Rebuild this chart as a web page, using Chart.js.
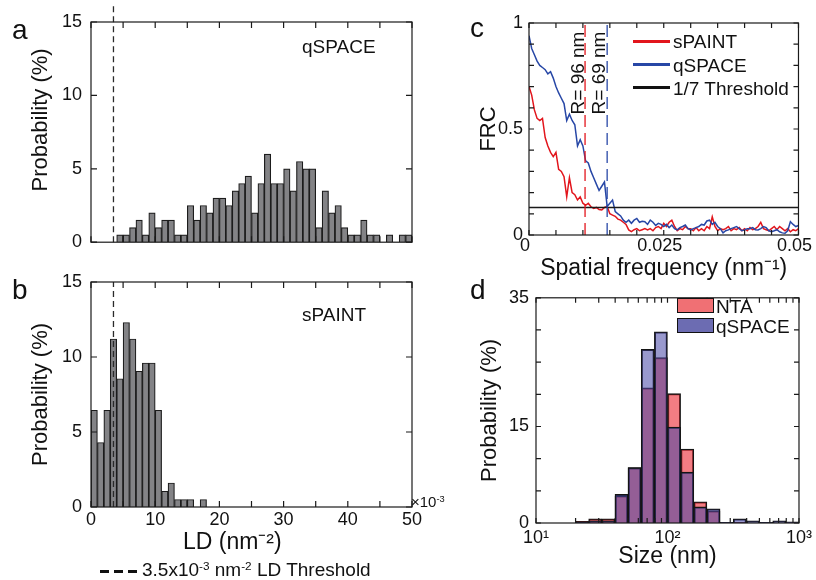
<!DOCTYPE html>
<html>
<head>
<meta charset="utf-8">
<title>LD histograms, FRC and size distributions</title>
<script src="https://cdn.jsdelivr.net/npm/chart.js@4.4.1/dist/chart.umd.min.js"></script>
<style>
  body { margin: 0; background: #fff; }
  #fig { position: relative; width: 816px; height: 580px; overflow: hidden;
         font-family: "Liberation Sans", Arial, sans-serif; color: #111; }
  #fig canvas { position: absolute; }
  .lbl { position: absolute; white-space: nowrap; line-height: 1; }
  .lbl sup { font-size: 0.62em; vertical-align: 0.55em; line-height: 0; }
  .rot { transform: translate(-50%, -50%) rotate(-90deg); }
  .swatch { position: absolute; height: 3px; width: 37px; }
  .patch { position: absolute; box-sizing: border-box; width: 37px; height: 15px; border: 1.5px solid #111; }
</style>
</head>
<body>
<div id="fig">
  <canvas id="ldQspace" width="430" height="262" style="left:0;top:0"></canvas>
  <canvas id="ldSpaint" width="430" height="318" style="left:0;top:262px"></canvas>
  <canvas id="frc" width="376" height="282" style="left:440px;top:0"></canvas>
  <canvas id="size" width="376" height="300" style="left:440px;top:280px"></canvas>

  <!-- panel letters -->
  <div class="lbl" style="left:12px;top:16px;font-size:28px">a</div>
  <div class="lbl" style="left:12px;top:276px;font-size:28px">b</div>
  <div class="lbl" style="left:470px;top:14px;font-size:28px">c</div>
  <div class="lbl" style="left:470px;top:276px;font-size:28px">d</div>

  <!-- a / b annotations -->
  <div class="lbl" style="left:302px;top:37px;font-size:19px">qSPACE</div>
  <div class="lbl" style="left:302px;top:305px;font-size:19px">sPAINT</div>
  <div class="lbl" style="left:411px;top:494px;font-size:15px">×10<sup>-3</sup></div>
  <div style="position:absolute;left:100px;top:570px;width:38px;height:3px;background:repeating-linear-gradient(to right,#111 0 9px,transparent 9px 14px)"></div>
  <div class="lbl" style="left:142px;top:560px;font-size:19px">3.5x10<sup>-3</sup> nm<sup>-2</sup> LD Threshold</div>

  <!-- c annotations and legend -->
  <div class="lbl rot" style="left:577px;top:73px;font-size:19px">R= 96 nm</div>
  <div class="lbl rot" style="left:598px;top:73px;font-size:19px">R= 69 nm</div>
  <div class="swatch" style="left:633px;top:40px;background:#e2151c"></div>
  <div class="swatch" style="left:633px;top:63px;background:#2747a6"></div>
  <div class="swatch" style="left:633px;top:86px;background:#111"></div>
  <div class="lbl" style="left:673px;top:32px;font-size:19px">sPAINT</div>
  <div class="lbl" style="left:673px;top:56px;font-size:19px">qSPACE</div>
  <div class="lbl" style="left:673px;top:79px;font-size:19px">1/7 Threshold</div>

  <!-- d legend -->
  <div class="patch" style="left:677px;top:298px;background:rgb(240,112,116)"></div>
  <div class="patch" style="left:677px;top:318px;background:rgb(108,108,178)"></div>
  <div class="lbl" style="left:716px;top:297px;font-size:19px">NTA</div>
  <div class="lbl" style="left:716px;top:317px;font-size:19px">qSPACE</div>
</div>

<script>
// ---- panel a/b: localisation density histograms (bins of 1e-3 nm^-2) ----
const ldBinCenters = [0.5, 1.5, 2.5, 3.5, 4.5, 5.5, 6.5, 7.5, 8.5, 9.5,
  10.5, 11.5, 12.5, 13.5, 14.5, 15.5, 16.5, 17.5, 18.5, 19.5,
  20.5, 21.5, 22.5, 23.5, 24.5, 25.5, 26.5, 27.5, 28.5, 29.5,
  30.5, 31.5, 32.5, 33.5, 34.5, 35.5, 36.5, 37.5, 38.5, 39.5,
  40.5, 41.5, 42.5, 43.5, 44.5, 45.5, 46.5, 47.5, 48.5, 49.5];
const qspaceLD = [0, 0, 0, 0, 0.5, 0.5, 1.0, 1.5, 0.5, 2.0,
  1.0, 1.5, 1.5, 0.5, 0.5, 2.5, 1.5, 2.5, 2.0, 3.0,
  3.0, 2.5, 3.5, 4.0, 4.5, 2.0, 4.0, 6.0, 4.0, 4.0,
  5.0, 3.5, 5.5, 5.0, 5.0, 1.0, 3.5, 2.0, 2.5, 1.0,
  0.5, 0.5, 1.5, 0.5, 0.5, 0, 0.5, 0, 0.5, 0.5];
const spaintLD = [6.45, 4.3, 6.45, 11.2, 8.55, 12.3, 11.2, 9.05, 9.6, 9.6,
  6.45, 1.05, 1.6, 0.5, 0.5, 0.5, 0, 0.5, 0, 0,
  0, 0, 0, 0, 0, 0, 0, 0, 0, 0,
  0, 0, 0, 0, 0, 0, 0, 0, 0, 0,
  0, 0, 0, 0, 0, 0, 0, 0, 0, 0];
const ldThreshold = 3.5;
const ldXLabels = [0, 10, 20, 30, 40, 50];

// ---- panel c: Fourier ring correlation ----
const frcFreq = [0, 0.0005, 0.001, 0.0015, 0.002, 0.0025, 0.003, 0.0035, 0.004, 0.0045,
  0.005, 0.0055, 0.006, 0.0065, 0.007, 0.0075, 0.008, 0.0085, 0.009, 0.0095,
  0.01, 0.0105, 0.011, 0.0115, 0.012, 0.0125, 0.013, 0.0135, 0.014, 0.0145,
  0.015, 0.0155, 0.016, 0.0165, 0.017, 0.0175, 0.018, 0.0185, 0.019, 0.0195,
  0.02, 0.0205, 0.021, 0.0215, 0.022, 0.0225, 0.023, 0.0235, 0.024, 0.0245,
  0.025, 0.0255, 0.026, 0.0265, 0.027, 0.0275, 0.028, 0.0285, 0.029, 0.0295,
  0.03, 0.0305, 0.031, 0.0315, 0.032, 0.0325, 0.033, 0.0335, 0.034, 0.0345,
  0.035, 0.0355, 0.036, 0.0365, 0.037, 0.0375, 0.038, 0.0385, 0.039, 0.0395,
  0.04, 0.0405, 0.041, 0.0415, 0.042, 0.0425, 0.043, 0.0435, 0.044, 0.0445,
  0.045, 0.0455, 0.046, 0.0465, 0.047, 0.0475, 0.048, 0.0485, 0.049, 0.0495, 0.05];
const frcSpaint = [0.70, 0.66, 0.59, 0.55, 0.54, 0.55, 0.46, 0.42, 0.39, 0.37,
  0.39, 0.31, 0.30, 0.275, 0.18, 0.27, 0.20, 0.19, 0.165, 0.18,
  0.15, 0.14, 0.15, 0.133, 0.125, 0.13, 0.12, 0.118, 0.13, 0.135,
  0.10, 0.094, 0.088, 0.075, 0.07, 0.06, 0.05, 0.024, 0.016, 0.025,
  0.03, 0.02, 0.025, 0.03, 0.024, 0.03, 0.02, 0.035, 0.04, 0.03,
  0.055, 0.04, 0.06, 0.07, 0.04, 0.02, 0.03, 0.025, 0.04, 0.03,
  0.03, 0.02, 0.035, 0.02, 0.03, 0.02, 0.04, 0.03, 0.086, 0.04,
  0.02, 0.03, 0.025, 0.03, 0.04, 0.02, 0.03, 0.025, 0.035, 0.02,
  0.03, 0.02, 0.035, 0.025, 0.03, 0.04, 0.06, 0.03, 0.025, 0.02,
  0.03, 0.04, 0.025, 0.04, 0.03, 0.02, 0.03, 0.015, 0.025, 0.02, 0.03];
const frcQspace = [0.94, 0.88, 0.85, 0.82, 0.80, 0.79, 0.78, 0.76, 0.77, 0.74,
  0.70, 0.67, 0.645, 0.62, 0.54, 0.57, 0.54, 0.52, 0.42, 0.45,
  0.42, 0.35, 0.34, 0.30, 0.27, 0.24, 0.21, 0.23, 0.25, 0.135,
  0.15, 0.165, 0.11, 0.10, 0.09, 0.07, 0.06, 0.07, 0.055, 0.07,
  0.078, 0.06, 0.065, 0.063, 0.05, 0.07, 0.06, 0.045, 0.055, 0.05,
  0.04, 0.05, 0.035, 0.047, 0.03, 0.024, 0.035, 0.04, 0.047, 0.03,
  0.024, 0.03, 0.035, 0.04, 0.05, 0.047, 0.066, 0.07, 0.05, 0.06,
  0.04, 0.03, 0.01, 0.02, 0.024, 0.03, 0.035, 0.04, 0.03, 0.02,
  0.024, 0.03, 0.03, 0.035, 0.025, 0.024, 0.03, 0.04, 0.035, 0.02,
  0.016, 0.02, 0.025, 0.015, 0.01, 0.008, 0.02, 0.063, 0.05, 0.04, 0.045];
const frcThreshold = 0.13;
const resSpaint = 0.0104; // R = 96 nm
const resQspace = 0.0145; // R = 69 nm
const frcXLabels = [0, 0.025, 0.05];
const frcXText = ['0', '0.025', '0.05'];
const frcYLabels = [0, 0.5, 1];
const frcYText = ['0', '0.5', '1'];

// ---- panel d: size distributions (log bins, centres in nm) ----
const sizeBins = [22.4, 28.2, 35.5, 44.7, 56.2, 70.8, 89.1, 112.2, 141.3,
  177.8, 223.9, 281.8, 354.8, 446.7, 562.3, 707.9, 891.3];
const ntaSize = [0.25, 0.64, 0.65, 4.2, 8.6, 21.0, 25.7, 20.1, 11.5,
  3.3, 1.9, 0.1, 0.1, 0, 0.1, 0, 0.1];
const qspaceSize = [0.1, 0.35, 0.35, 4.45, 8.6, 27.0, 29.7, 14.9, 7.9,
  2.5, 2.2, 0.1, 0.65, 0.35, 0.1, 0.35, 0.2];
const sizeTicks = [10, 100, 1000];
const sizeTickText = ['10¹', '10²', '10³'];
const sizeYLabels = [0, 15, 35];
const sizeMinor = [20, 30, 40, 50, 60, 70, 80, 90, 200, 300, 400, 500, 600, 700, 800, 900];

Chart.defaults.font.family = '"Liberation Sans", Arial, sans-serif';
Chart.defaults.color = '#111';

// box around the plot area with inward tick marks on all four sides
const frameTicks = {
  id: 'frameTicks',
  afterDatasetsDraw(chart, args, opts) {
    const { ctx, chartArea: a } = chart;
    const { x, y } = chart.scales;
    const len = opts.len || 5;
    const xs = x.ticks.map(t => t.value).concat(opts.xMinor || []);
    const ys = y.ticks.map(t => t.value);
    ctx.save();
    ctx.strokeStyle = '#1a1a1a';
    ctx.lineWidth = 1.2;
    ctx.beginPath();
    xs.forEach(v => {
      const p = x.getPixelForValue(v);
      ctx.moveTo(p, a.bottom); ctx.lineTo(p, a.bottom - len);
      ctx.moveTo(p, a.top); ctx.lineTo(p, a.top + len);
    });
    ys.forEach(v => {
      const p = y.getPixelForValue(v);
      ctx.moveTo(a.left, p); ctx.lineTo(a.left + len, p);
      ctx.moveTo(a.right, p); ctx.lineTo(a.right - len, p);
    });
    ctx.stroke();
    ctx.strokeRect(a.left, a.top, a.right - a.left, a.bottom - a.top);
    ctx.restore();
  }
};
Chart.register(frameTicks);

const noGrid = { display: false, drawTicks: false };

function ldHistogram(id, values, o) {
  return new Chart(document.getElementById(id), {
    type: 'bar',
    data: {
      datasets: [{
        type: 'line',
        label: 'LD threshold',
        data: [{ x: ldThreshold, y: 0 }, { x: ldThreshold, y: o.threshTop }],
        borderColor: '#2a2a2a',
        borderWidth: 1.3,
        borderDash: [6, 4],
        pointRadius: 0,
        clip: false,
        order: 0
      }, {
        label: o.label,
        data: ldBinCenters.map((c, i) => ({ x: c, y: values[i] })),
        backgroundColor: '#838386',
        borderColor: '#1c1c1c',
        borderWidth: 1.2,
        barPercentage: 1,
        categoryPercentage: 1,
        order: 1
      }]
    },
    options: {
      responsive: false,
      animation: false,
      layout: { padding: { top: o.top, right: 18, left: 0, bottom: 0 } },
      plugins: { legend: { display: false }, tooltip: { enabled: false }, frameTicks: { len: 6 } },
      scales: {
        x: {
          type: 'linear', min: 0, max: 50, offset: false,
          grid: noGrid, border: { display: false },
          ticks: {
            display: o.showX, stepSize: 5, autoSkip: false, maxRotation: 0, padding: 2,
            font: { size: 18 },
            callback: v => ldXLabels.includes(v) ? String(v) : ''
          },
          title: { display: o.showX, text: 'LD (nm⁻²)      ', font: { size: 23 }, padding: { top: 0, bottom: 24 } },
          afterFit: s => { s.height = o.xHeight; }
        },
        y: {
          min: 0, max: 15,
          grid: noGrid, border: { display: false },
          ticks: { stepSize: 5, autoSkip: false, padding: 9, font: { size: 18 } },
          title: { display: true, text: o.yTitle, font: { size: 22 }, padding: { top: 28, bottom: 0 } },
          afterFit: s => { s.width = 91; }
        }
      }
    }
  });
}

ldHistogram('ldQspace', qspaceLD, { label: 'qSPACE', top: 22, xHeight: 15, showX: false, threshTop: 16.3, yTitle: '    Probability (%)' });
ldHistogram('ldSpaint', spaintLD, { label: 'sPAINT', top: 20, xHeight: 73, showX: true, threshTop: 15, yTitle: 'Probability (%)' });

const pts = (xs, ys) => xs.map((v, i) => ({ x: v, y: ys[i] }));
const near = (list, v) => list.findIndex(l => Math.abs(l - v) < 1e-9);

new Chart(document.getElementById('frc'), {
  type: 'line',
  data: {
    datasets: [
      { label: 'sPAINT', data: pts(frcFreq, frcSpaint), borderColor: '#e2151c', borderWidth: 1.5, pointRadius: 0, order: 3 },
      { label: 'qSPACE', data: pts(frcFreq, frcQspace), borderColor: '#2747a6', borderWidth: 1.5, pointRadius: 0, order: 2 },
      { label: '1/7 Threshold', data: [{ x: 0, y: frcThreshold }, { x: 0.05, y: frcThreshold }], borderColor: '#1a1a1a', borderWidth: 1.6, pointRadius: 0, order: 1 },
      { label: 'R= 96 nm', data: [{ x: resSpaint, y: 0 }, { x: resSpaint, y: 1 }], borderColor: '#e2151c', borderWidth: 1.3, borderDash: [12, 6], pointRadius: 0, order: 0 },
      { label: 'R= 69 nm', data: [{ x: resQspace, y: 0 }, { x: resQspace, y: 1 }], borderColor: '#2747a6', borderWidth: 1.3, borderDash: [12, 6], pointRadius: 0, order: 0 }
    ]
  },
  options: {
    responsive: false,
    animation: false,
    layout: { padding: { top: 23, right: 14, left: 0, bottom: 0 } },
    plugins: { legend: { display: false }, tooltip: { enabled: false }, frameTicks: { len: 5 } },
    scales: {
      x: {
        type: 'linear', min: 0, max: 0.05,
        grid: noGrid, border: { display: false },
        ticks: {
          stepSize: 0.005, autoSkip: false, maxRotation: 0, padding: 0, labelOffset: -4,
          font: { size: 18 },
          callback: v => { const k = near(frcXLabels, v); return k < 0 ? '' : frcXText[k]; }
        },
        title: { display: true, text: 'Spatial frequency (nm⁻¹)', font: { size: 23 }, padding: { top: 0, bottom: 0 } },
        afterFit: s => { s.height = 47; }
      },
      y: {
        min: 0, max: 1,
        grid: noGrid, border: { display: false },
        ticks: {
          stepSize: 0.1, autoSkip: false, padding: 6, font: { size: 18 },
          callback: v => { const k = near(frcYLabels, v); return k < 0 ? '' : frcYText[k]; }
        },
        title: { display: true, text: 'FRC', font: { size: 22 }, padding: { top: 36, bottom: 0 } },
        afterFit: s => { s.width = 89; }
      }
    }
  }
});

new Chart(document.getElementById('size'), {
  type: 'bar',
  data: {
    datasets: [
      { label: 'NTA', data: pts(sizeBins, ntaSize), backgroundColor: 'rgba(235,45,55,0.62)', borderColor: '#141414', borderWidth: 1.3,
        barPercentage: 1, categoryPercentage: 1, grouped: false, order: 2 },
      { label: 'qSPACE', data: pts(sizeBins, qspaceSize), backgroundColor: 'rgba(70,70,165,0.55)', borderColor: '#141414', borderWidth: 1.3,
        barPercentage: 1, categoryPercentage: 1, grouped: false, order: 1 }
    ]
  },
  options: {
    responsive: false,
    animation: false,
    layout: { padding: { top: 7, right: 9, left: 0, bottom: 0 } },
    plugins: { legend: { display: false }, tooltip: { enabled: false }, frameTicks: { len: 5, xMinor: sizeMinor } },
    scales: {
      x: {
        type: 'logarithmic', min: 10, max: 1000, offset: false,
        grid: noGrid, border: { display: false },
        afterBuildTicks: s => { s.ticks = sizeTicks.map(v => ({ value: v })); },
        ticks: {
          autoSkip: false, maxRotation: 0, padding: 4, font: { size: 18 },
          callback: v => { const k = sizeTicks.indexOf(v); return k < 0 ? '' : sizeTickText[k]; }
        },
        title: { display: true, text: 'Size (nm)', font: { size: 23 }, padding: { top: 0, bottom: 10 } },
        afterFit: s => { s.height = 57; }
      },
      y: {
        min: 0, max: 35,
        grid: noGrid, border: { display: false },
        ticks: {
          stepSize: 5, autoSkip: false, padding: 7, font: { size: 18 },
          callback: v => sizeYLabels.includes(v) ? String(v) : ''
        },
        title: { display: true, text: 'Probability (%)', font: { size: 22 }, padding: { top: 37, bottom: 0 } },
        afterFit: s => { s.width = 96; }
      }
    }
  }
});
</script>
</body>
</html>
